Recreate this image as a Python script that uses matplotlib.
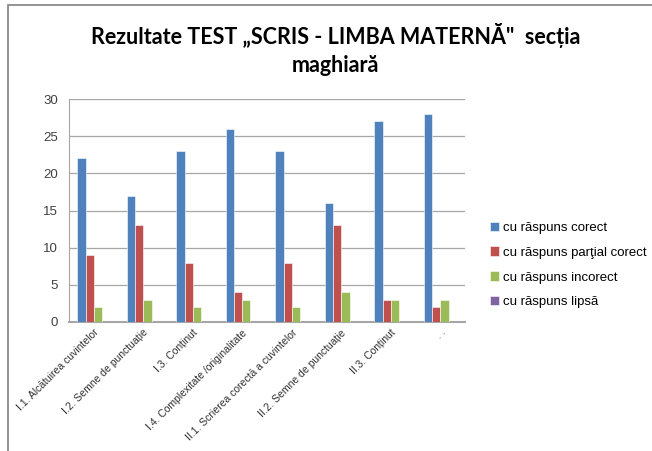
import numpy as np
import matplotlib.pyplot as plt
from matplotlib.patches import Rectangle

categories = ['I.1. Alcătuirea cuvintelor', 'I.2. Semne de punctuație', 'I.3. Conținut',
              'I.4. Complexitate /originalitate', 'II.1. Scrierea corectă a cuvintelor',
              'II.2. Semne de punctuație', 'II.3. Conținut', '. .']
corect = [22, 17, 23, 26, 23, 16, 27, 28]
partial = [9, 13, 8, 4, 8, 13, 3, 2]
incorect = [2, 3, 2, 3, 2, 4, 3, 3]
lipsa = [0, 0, 0, 0, 0, 0, 0, 0]

series = [('cu răspuns corect', corect, '#4F81BD'),
          ('cu răspuns parţial corect', partial, '#C0504D'),
          ('cu răspuns incorect', incorect, '#9BBB59'),
          ('cu răspuns lipsă', lipsa, '#8064A2')]

W, H = 652, 451
fig = plt.figure(figsize=(W / 100, H / 100), dpi=100)
ax = fig.add_axes([69 / W, 1 - 322 / H, (465 - 69) / W, (322 - 99) / H])

x = np.arange(len(categories))
bw = 1 / 6
for i, (name, vals, col) in enumerate(series):
    ax.bar(x - 2 * bw + (i + 0.5) * bw, vals, bw, color=col, label=name,
           edgecolor='white', linewidth=0.4, zorder=3)

ax.set_xlim(-0.5, len(categories) - 0.5)
ax.set_ylim(0, 30)
ax.set_yticks(range(0, 31, 5))
ax.yaxis.grid(True, color='#A6A6A6', linewidth=0.9, zorder=0)
ax.tick_params(axis='y', length=0, labelsize=9.5, colors='#404040', pad=8)
ax.tick_params(axis='x', length=0, pad=4)
ax.set_xticks(x)
ax.set_xticklabels(categories, rotation=45, ha='right', rotation_mode='anchor',
                   fontsize=7.5, color='#303030', family='Liberation Sans')
for lab in ax.get_yticklabels():
    lab.set_family('Liberation Sans')
for s in ['top', 'right']:
    ax.spines[s].set_visible(False)
ax.spines['left'].set_color('#A6A6A6')
ax.spines['bottom'].set_color('#A6A6A6')
ax.spines['bottom'].set_linewidth(1.5)

fig.text(0.515, 1 - 35 / H, 'Rezultate TEST „SCRIS - LIMBA MATERNĂ"  secția',
         ha='center', va='center', fontsize=15.5, fontweight='bold', family='Lato')
fig.text(0.515, 1 - 66 / H, 'maghiară',
         ha='center', va='center', fontsize=15.5, fontweight='bold', family='Lato')

ax.legend(loc='center left', bbox_to_anchor=(478 / W, 1 - 265 / H),
          bbox_transform=fig.transFigure, frameon=False,
          prop={'family': 'Liberation Sans', 'size': 9.5},
          handlelength=0.7, handleheight=0.7, handletextpad=0.3, labelspacing=0.95)

fig.patches.append(Rectangle((8 / W, -0.1), 1.2, 1 - 5 / H + 0.1, transform=fig.transFigure,
                             fill=False, edgecolor='#808080', linewidth=1.2))

fig.savefig('out.png', dpi=100)
